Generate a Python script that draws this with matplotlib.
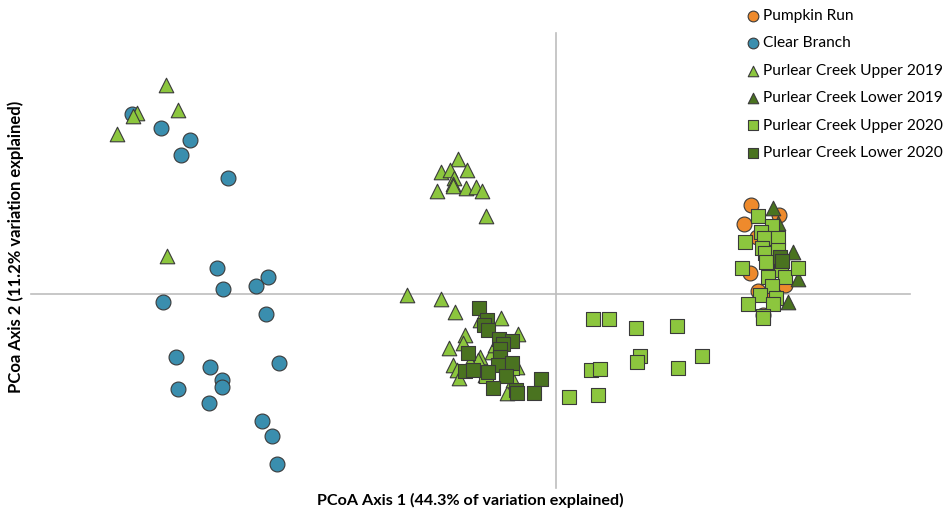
import matplotlib
matplotlib.use("Agg")
import matplotlib.pyplot as plt

plt.rcParams['font.family'] = ['Lato', 'DejaVu Sans']

labels = ["Pumpkin Run", "Clear Branch", "Purlear Creek Upper 2019",
          "Purlear Creek Lower 2019", "Purlear Creek Upper 2020", "Purlear Creek Lower 2020"]

pumpkin_x = [1.95, 1.88, 2.23, 2.01, 2.12, 1.94, 2.14, 2.29, 2.02, 2.17, 2.07]
pumpkin_y = [0.89, 0.70, 0.79, 0.57, 0.49, 0.21, 0.22, 0.09, 0.03, -0.03, -0.21]

clear_x = [-4.24, -3.95, -3.66, -3.75, -3.28, -3.39, -2.88, -3.00, -3.33, -3.93, -2.90,
           -3.80, -2.77, -3.46, -3.34, -3.34, -3.78, -3.47, -2.94, -2.84, -2.79]
clear_y = [1.80, 1.66, 1.54, 1.39, 1.16, 0.26, 0.17, 0.08, 0.05, -0.08, -0.20,
           -0.63, -0.69, -0.73, -0.86, -0.93, -0.95, -1.09, -1.27, -1.42, -1.70]

up19_x = [-3.90, -3.78, -4.19, -4.23, -4.39, -3.89,
          -0.98, -1.15, -1.06, -0.89, -1.02, -1.03, -1.03, -1.19, -0.90, -0.80, -0.74, -0.70,
          -1.49, -1.15, -1.01, -0.76, -0.55, -0.91, -0.38, -0.93, -1.07, -0.64, -0.76, -0.78,
          -1.03, -0.99, -0.48, -0.97, -0.71, -0.39, -0.49, -0.43, -0.61, -0.86]
up19_y = [2.09, 1.84, 1.81, 1.78, 1.60, 0.38,
          1.35, 1.22, 1.24, 1.24, 1.16, 1.10, 1.08, 1.03, 1.06, 1.07, 1.03, 0.78,
          -0.01, -0.05, -0.18, -0.26, -0.24, -0.41, -0.40, -0.49, -0.54, -0.58, -0.63, -0.66,
          -0.71, -0.76, -0.71, -0.84, -0.81, -0.73, -0.99, -0.86, -0.51, -0.68]

low19_x = [2.17, 2.22, 2.37, 2.42, 2.32]
low19_y = [0.86, 0.71, 0.42, 0.15, -0.08]

up20_x = [-0.70, -0.44,
          0.37, 0.53, 0.80, 1.21, 0.84, 0.81, 1.46, 0.35, 0.44, 1.22, 0.13, 0.42,
          2.02, 2.16, 2.05, 2.08, 2.22, 1.89, 2.06, 2.09, 2.22, 1.86, 2.25, 2.29, 2.42,
          2.12, 2.16, 2.04, 2.20, 1.92, 2.17, 2.07, 2.07, 2.10]
up20_y = [-0.82, -0.74,
          -0.25, -0.25, -0.34, -0.32, -0.62, -0.68, -0.62, -0.76, -0.75, -0.74, -1.03, -1.01,
          0.78, 0.68, 0.62, 0.56, 0.56, 0.52, 0.46, 0.41, 0.44, 0.26, 0.24, 0.17, 0.26,
          0.17, 0.08, -0.01, -0.04, -0.10, -0.10, -0.22, -0.24, 0.32]

low20_x = [-0.77, -0.69, -0.72, -0.68, -0.57, -0.44, -0.53, -0.88, -0.56, -0.56, -0.58,
           -0.44, -0.91, -0.83, -0.68, -0.50, -0.63, -0.40, -0.39, -0.15, -0.22,
           2.24, 2.26]
low20_y = [-0.14, -0.26, -0.31, -0.36, -0.45, -0.47, -0.50, -0.59, -0.55, -0.63, -0.71,
           -0.69, -0.77, -0.76, -0.78, -0.82, -0.94, -0.96, -0.99, -0.85, -0.99,
           0.37, 0.33]

colors = ["#EE8A2C", "#3A8EAE", "#8CC63E", "#4A7320", "#8CC63E", "#4A7320"]
markers = ["o", "o", "^", "^", "s", "s"]
sizes = [115, 115, 110, 110, 95, 95]
series = [(pumpkin_x, pumpkin_y), (clear_x, clear_y), (up19_x, up19_y),
          (low19_x, low19_y), (up20_x, up20_y), (low20_x, low20_y)]

W, H = 946, 512
fig = plt.figure(figsize=(W / 100, H / 100), dpi=100)
ax = fig.add_axes([0, 0, 1, 1])
ax.set_xlim(-5.56, 3.90)
ax.set_ylim(-2.18, 2.94)
ax.axis("off")

# axis lines
ax.plot([-5.25, 3.54], [0, 0], color="#BEBEBE", lw=1.2, zorder=1)
ax.plot([0, 0], [-1.94, 2.61], color="#BEBEBE", lw=1.2, zorder=1)

handles = []
for i, ((xs, ys), lab) in enumerate(zip(series, labels)):
    h = ax.scatter(xs, ys, s=sizes[i], marker=markers[i], c=colors[i],
                   edgecolors="#3A3A3A", linewidths=0.8, label=lab, zorder=2 + i)
    handles.append(h)

leg = fig.legend(handles=handles, loc="upper left", bbox_to_anchor=(748.5 / W, 1 - 9 / H),
                 frameon=False, fontsize=11.2, markerscale=0.72, handlelength=0.6,
                 handletextpad=0.33, labelspacing=0.86, borderpad=0, borderaxespad=0)

fig.text(470 / W, 1 - 500 / H, "PCoA Axis 1 (44.3% of variation explained)",
         ha="center", va="center", fontsize=11.6, fontweight="bold")
fig.text(16 / W, 1 - 247 / H, "PCoa Axis 2 (11.2% variation explained)",
         ha="center", va="center", rotation=90, fontsize=12, fontweight="bold")

fig.savefig("out.png", dpi=100)
